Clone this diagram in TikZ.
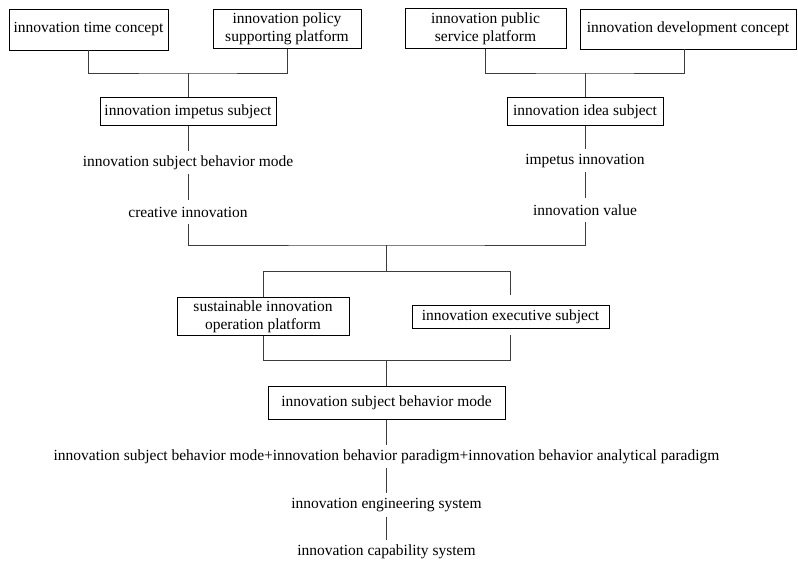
\documentclass[tikz,border=0pt]{standalone}
\usepackage{fontspec}
\setmainfont{Liberation Serif}
\usepackage{tikz}
\usetikzlibrary{positioning}
\definecolor{FlowBlack}{RGB}{0,0,0}
\definecolor{FlowGray}{RGB}{60,60,60}

\begin{document}
\begin{tikzpicture}[
    x=1pt, y=-1pt,
    font=\fontsize{15.5pt}{17.7pt}\selectfont,
    box/.style={draw=FlowBlack, line width=0.8pt, align=center, inner xsep=3pt, inner ysep=2pt},
    lbl/.style={inner sep=0pt, minimum height=23pt},
    link/.style={draw=FlowGray, line width=0.8pt}
  ]
  \useasboundingbox (0,0) rectangle (798,562);

  % top row
  \node[box, minimum width=159pt, minimum height=41pt] (time) at (88.5,29.5) {innovation time concept};
  \node[box, minimum width=148pt, minimum height=39pt] (policy) at (287,29) {innovation policy\\supporting platform};
  \node[box, minimum width=161pt, minimum height=40pt] (public) at (485.5,28.5) {innovation public\\service platform};
  \node[box, minimum width=216pt, minimum height=40pt] (devel) at (688,29) {innovation development concept};

  % subjects and their chains
  \node[box, minimum width=176pt, minimum height=28pt] (impetus) at (188,111.5) {innovation impetus subject};
  \node[lbl, below=25pt of impetus] (mode) {innovation subject behavior mode};
  \node[lbl, below=26pt of mode] (creative) {creative innovation};

  \node[box, minimum width=156pt, minimum height=28pt] (idea) at (585,111.5) {innovation idea subject};
  \node[lbl, below=23pt of idea] (impinno) {impetus innovation};
  \node[lbl, below=26pt of impinno] (value) {innovation value};

  % platforms
  \node[box, minimum width=172pt, minimum height=38pt] (sustain) at (263,316.5) {sustainable innovation\\operation platform};
  \node[box, minimum width=197pt, minimum height=23pt] (exec) at (510.5,317) {innovation executive subject};

  % bottom chain
  \node[box, minimum width=237pt, minimum height=33pt] (behavior) at (386.5,403) {innovation subject behavior mode};
  \node[lbl, below=25pt of behavior] (paradigm) {innovation subject behavior mode+innovation behavior paradigm+innovation behavior analytical paradigm};
  \node[lbl, below=25pt of paradigm] (engsys) {innovation engineering system};
  \node[lbl, below=23pt of engsys] (capsys) {innovation capability system};

  \coordinate (topL) at (188,73);
  \coordinate (topR) at (585,73);
  \coordinate (merge) at (386.5,245);
  \coordinate (split) at (386.5,271);
  \coordinate (join) at (386.5,360);

  \draw[link] (time.south) |- (topL) -| (policy.south);
  \draw[link] (topL) -- (impetus.north);
  \draw[link] (public.south) |- (topR) -| ([xshift=-4pt]devel.south);
  \draw[link] (topR) -- (idea.north);

  \draw[link] (impetus) -- (mode);
  \draw[link] (mode) -- (creative);
  \draw[link] (idea) -- (impinno);
  \draw[link] (impinno) -- (value);

  \draw[link] (creative.south) |- (merge) -| (value.south);
  \draw[link] (merge) -- (split);
  \draw[link] (split) -| (sustain.north);
  \draw[link, shorten >=10pt] (split) -| (exec.north);
  \draw[link] (sustain.south) |- (join);
  \draw[link, shorten <=6pt] (exec.south) |- (join);
  \draw[link] (join) -- (behavior.north);

  \draw[link] (behavior) -- (paradigm);
  \draw[link] (paradigm) -- (engsys);
  \draw[link] (engsys) -- (capsys);
\end{tikzpicture}
\end{document}
